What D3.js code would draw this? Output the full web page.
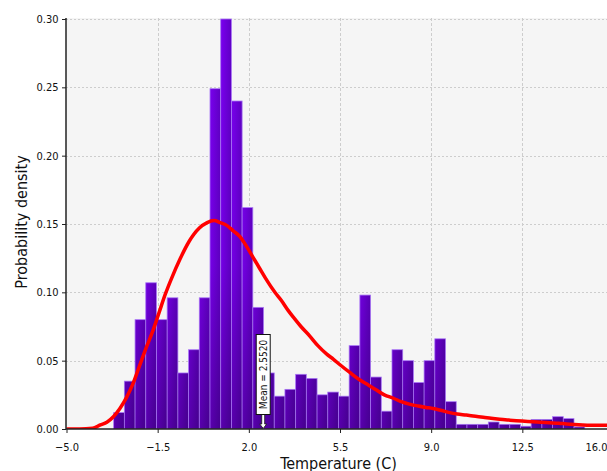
<!DOCTYPE html>
<html>
<head>
<meta charset="utf-8">
<script src="https://cdn.jsdelivr.net/npm/d3@7"></script>
<style>
  html, body { margin: 0; padding: 0; background: #ffffff; }
  svg { display: block; }
  text { font-family: "DejaVu Sans Condensed", "DejaVu Sans", sans-serif; fill: #111; }
</style>
</head>
<body>
<svg id="chart" width="607" height="471"></svg>
<script>
// ---------------- DATA ----------------
const binStart = -3.19;   // left edge of first histogram bin (°C)
const binWidth = 0.411;   // bin width (°C)
const densities = [
  0.012, 0.035, 0.080, 0.107, 0.080, 0.096, 0.041, 0.058, 0.096, 0.249,
  0.300, 0.240, 0.162, 0.089, 0.041, 0.024, 0.029, 0.040, 0.037, 0.025,
  0.027, 0.024, 0.061, 0.098, 0.038, 0.013, 0.058, 0.050, 0.034, 0.050,
  0.066, 0.020, 0.0034, 0.0034, 0.0034, 0.0051, 0.0034, 0.0034, 0.0020, 0.0070,
  0.0070, 0.0090, 0.0076, 0.0015
];
const curveX = [
  -5.0, -4.5, -4.0, -3.7, -3.45, -3.2, -2.95, -2.7, -2.45, -2.2,
  -1.95, -1.7, -1.45, -1.2, -0.95, -0.65, -0.3, 0.1, 0.4, 0.66,
  0.9, 1.15, 1.4, 1.65, 1.9, 2.15, 2.4, 2.65, 3.0, 3.25,
  3.5, 3.7, 4.0, 4.34, 4.65, 4.98, 5.25, 5.5, 5.9, 6.25,
  6.6, 6.9, 7.2, 7.55, 7.85, 8.2, 8.5, 8.8, 9.07, 9.4,
  9.71, 10.0, 10.35, 10.7, 11.0, 11.3, 11.63, 12.0, 12.27, 12.6,
  12.9, 13.2, 13.55, 13.9, 14.19, 14.5, 14.82, 15.2, 15.6, 16.0
];
const curveY = [
  0.0, 0.0, 0.0005, 0.003, 0.005, 0.009, 0.015, 0.023, 0.033, 0.046,
  0.059, 0.071, 0.085, 0.099, 0.111, 0.124, 0.137, 0.147, 0.151, 0.1525,
  0.151, 0.149, 0.145, 0.141, 0.134, 0.126, 0.118, 0.110, 0.100, 0.094,
  0.087, 0.082, 0.075, 0.068, 0.061, 0.055, 0.051, 0.047, 0.041, 0.036,
  0.032, 0.0285, 0.025, 0.0225, 0.020, 0.018, 0.0168, 0.0158, 0.015, 0.0135,
  0.012, 0.011, 0.0102, 0.0093, 0.0086, 0.0078, 0.0071, 0.0065, 0.0061, 0.0057,
  0.0053, 0.0050, 0.0046, 0.0042, 0.0037, 0.0033, 0.0030, 0.0028, 0.0027, 0.0026
];
const meanValue = 2.552;
const meanLabel = "Mean = 2.5520";
const xTicks = [-5.0, -1.5, 2.0, 5.5, 9.0, 12.5, 16.0];
const yTicks = [0.00, 0.05, 0.10, 0.15, 0.20, 0.25, 0.30];
const xTitle = "Temperature (C)";
const yTitle = "Probability density";

// ---------------- LAYOUT ----------------
const W = 607, H = 471;
const pLeft = 66, pTop = 18, pBottom = 429;
const svg = d3.select("#chart");

const x = d3.scaleLinear().domain([-5, 16]).range([66.5, 613.5]);
const y = d3.scaleLinear().domain([0, 0.30]).range([pBottom, 19]);

// defs: gradients
const defs = svg.append("defs");
const gH = defs.append("linearGradient").attr("id", "barH")
  .attr("x1", 0).attr("y1", 0).attr("x2", 1).attr("y2", 0);
gH.append("stop").attr("offset", "0%").attr("stop-color", "#7a00f0");
gH.append("stop").attr("offset", "100%").attr("stop-color", "#5f00c4");
const gV = defs.append("linearGradient").attr("id", "barV")
  .attr("gradientUnits", "userSpaceOnUse")
  .attr("x1", 0).attr("y1", pTop).attr("x2", 0).attr("y2", pBottom);
gV.append("stop").attr("offset", "0%").attr("stop-color", "#000").attr("stop-opacity", 0);
gV.append("stop").attr("offset", "60%").attr("stop-color", "#000").attr("stop-opacity", 0.04);
gV.append("stop").attr("offset", "100%").attr("stop-color", "#000").attr("stop-opacity", 0.28);

defs.append("clipPath").attr("id", "plotClip")
  .append("rect").attr("x", pLeft).attr("y", pTop).attr("width", W - pLeft).attr("height", pBottom - pTop);

// plot background
svg.append("rect").attr("x", pLeft).attr("y", pTop)
  .attr("width", W - pLeft).attr("height", pBottom - pTop)
  .attr("fill", "#f5f5f5");

// grid
const grid = svg.append("g").attr("clip-path", "url(#plotClip)");
grid.selectAll("line.gy").data(yTicks.filter(d => d > 0)).join("line")
  .attr("x1", pLeft).attr("x2", W)
  .attr("y1", d => Math.round(y(d)) + 0.5).attr("y2", d => Math.round(y(d)) + 0.5)
  .attr("stroke", "#cdcdcd").attr("stroke-width", 1).attr("stroke-dasharray", "2,2");
grid.selectAll("line.gx").data(xTicks.filter(d => d > -5)).join("line")
  .attr("y1", pTop).attr("y2", pBottom)
  .attr("x1", d => Math.round(x(d)) + 0.5).attr("x2", d => Math.round(x(d)) + 0.5)
  .attr("stroke", "#cdcdcd").attr("stroke-width", 1).attr("stroke-dasharray", "3,2");

// bars
const bars = svg.append("g").attr("clip-path", "url(#plotClip)");
const barData = densities.map((d, i) => ({ x0: binStart + i * binWidth, x1: binStart + (i + 1) * binWidth, v: d }));
bars.selectAll("rect.bar").data(barData).join("rect")
  .attr("class", "bar")
  .attr("x", d => x(d.x0)).attr("width", d => x(d.x1) - x(d.x0))
  .attr("y", d => y(d.v)).attr("height", d => y(0) - y(d.v))
  .attr("fill", "url(#barH)")
  .attr("stroke", "#a878f4").attr("stroke-width", 0.8);
bars.selectAll("rect.shade").data(barData).join("rect")
  .attr("class", "shade")
  .attr("x", d => x(d.x0) + 0.4).attr("width", d => x(d.x1) - x(d.x0) - 0.8)
  .attr("y", d => y(d.v) + 0.4).attr("height", d => Math.max(0, y(0) - y(d.v) - 0.4))
  .attr("fill", "url(#barV)");

// fitted curve
const line = d3.line().x(d => x(d[0])).y(d => y(d[1])).curve(d3.curveMonotoneX);
svg.append("path").attr("clip-path", "url(#plotClip)")
  .datum(curveX.map((v, i) => [v, curveY[i]]))
  .attr("d", line)
  .attr("fill", "none").attr("stroke", "#ff0000").attr("stroke-width", 3.5)
  .attr("stroke-linejoin", "round");

// axes
const yAxis = d3.axisLeft(y).tickValues(yTicks).tickFormat(d3.format(".2f")).tickSize(4).tickSizeOuter(0);
const gy = svg.append("g").attr("transform", `translate(${pLeft},0)`).call(yAxis);
gy.select(".domain").attr("stroke", "#222").attr("stroke-width", 1.5)
  .attr("d", `M0,${pTop}V${pBottom}`);
gy.selectAll(".tick line").attr("stroke", "#222");
gy.selectAll(".tick text").attr("font-size", 11).attr("fill", "#111")
  .attr("font-family", "'DejaVu Sans Condensed', 'DejaVu Sans', sans-serif").attr("x", -7.5);

const xAxis = d3.axisBottom(x).tickValues(xTicks).tickFormat(d3.format(".1f")).tickSize(4).tickSizeOuter(0);
const gx = svg.append("g").attr("transform", `translate(0,${pBottom})`).call(xAxis);
gx.select(".domain").attr("stroke", "#222").attr("stroke-width", 1.5)
  .attr("d", `M${pLeft},0H${W}`);
gx.selectAll(".tick line").attr("stroke", "#222");
gx.selectAll(".tick text").attr("font-size", 11).attr("fill", "#111")
  .attr("font-family", "'DejaVu Sans Condensed', 'DejaVu Sans', sans-serif")
  .attr("y", 14).attr("dy", "0.71em");
// keep the last label inside the window
gx.selectAll(".tick").each(function (d) {
  const t = d3.select(this).select("text");
  const px = x(d);
  if (px + 12 > W) {
    t.attr("text-anchor", "end").attr("x", W - px);
  }
});

// titles
svg.append("text").attr("x", 338.5).attr("y", 468.5).attr("text-anchor", "middle")
  .attr("font-size", 16).text(xTitle);
svg.append("text").attr("transform", "translate(27,222) rotate(-90)")
  .attr("text-anchor", "middle").attr("font-size", 16).text(yTitle);

// mean annotation
const mx = x(meanValue);
const ann = svg.append("g");
ann.append("path")
  .attr("d", `M${mx - 1.5},414.5 V424 H${mx - 3.5} L${mx},428.5 L${mx + 3.5},424 H${mx + 1.5} V414.5 Z`)
  .attr("fill", "#ffffff").attr("stroke", "#222").attr("stroke-width", 0.9);
ann.append("rect").attr("x", mx - 7).attr("y", 334.5).attr("width", 14).attr("height", 80)
  .attr("fill", "#ffffff").attr("stroke", "#111").attr("stroke-width", 1);
ann.append("text").attr("transform", `translate(${mx + 0.5},374.5) rotate(-90)`)
  .attr("text-anchor", "middle").attr("dominant-baseline", "central")
  .attr("font-size", 10).text(meanLabel);
</script>
</body>
</html>
